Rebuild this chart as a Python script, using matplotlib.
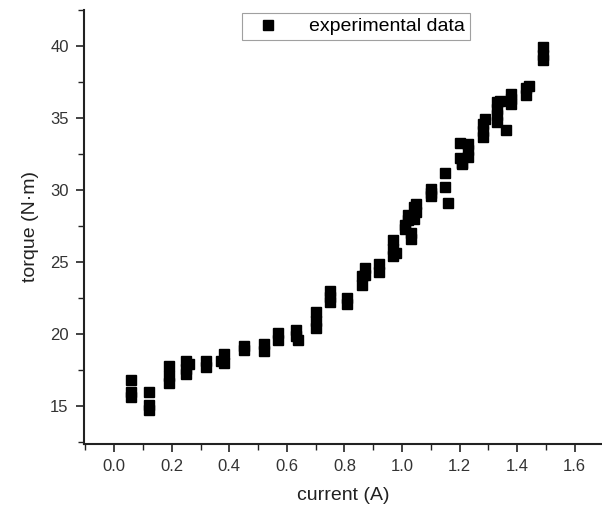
import matplotlib
matplotlib.use("Agg")
import matplotlib.pyplot as plt
from matplotlib.ticker import MultipleLocator, FormatStrFormatter

plt.rcParams['font.family'] = ['Liberation Sans', 'DejaVu Sans']

current = [0.06, 0.06, 0.06,
           0.12, 0.12, 0.12,
           0.19, 0.19, 0.19,
           0.25, 0.25, 0.25, 0.26,
           0.32, 0.32,
           0.38, 0.38, 0.37,
           0.45, 0.45,
           0.52, 0.52,
           0.57, 0.57,
           0.63, 0.63, 0.64,
           0.70, 0.70, 0.70,
           0.75, 0.75, 0.75,
           0.81, 0.81,
           0.86, 0.86, 0.87, 0.87,
           0.92, 0.92,
           0.97, 0.97, 0.97, 0.98,
           1.01, 1.01, 1.02, 1.02, 1.03, 1.03, 1.04, 1.04, 1.05, 1.05,
           1.10, 1.10, 1.10,
           1.15, 1.15, 1.16,
           1.20, 1.20, 1.21, 1.21,
           1.23, 1.23, 1.23,
           1.28, 1.28, 1.28, 1.29,
           1.33, 1.33, 1.33, 1.33, 1.34,
           1.36,
           1.38, 1.38, 1.38,
           1.43, 1.43, 1.44,
           1.49, 1.49, 1.49]

torque = [16.8, 16.0, 15.6,
          16.0, 15.1, 14.7,
          17.8, 17.1, 16.6,
          18.1, 17.6, 17.2, 17.9,
          18.1, 17.7,
          18.6, 18.0, 18.1,
          19.2, 18.9,
          19.3, 18.8,
          20.1, 19.6,
          20.3, 19.9, 19.6,
          21.5, 20.9, 20.4,
          23.0, 22.6, 22.2,
          22.5, 22.1,
          24.0, 23.4, 24.6, 24.1,
          24.9, 24.3,
          26.5, 25.9, 25.4, 25.6,
          27.3, 27.6, 27.9, 28.3, 26.6, 27.0, 28.0, 28.8, 29.0, 28.5,
          30.1, 29.8, 29.6,
          31.2, 30.2, 29.1,
          33.3, 32.2, 31.9, 31.8,
          33.2, 32.8, 32.3,
          34.6, 34.1, 33.7, 34.9,
          36.1, 35.6, 35.2, 34.7, 36.2,
          34.2,
          36.7, 36.3, 36.0,
          37.1, 36.6, 37.2,
          39.9, 39.4, 39.0]

series_label = "experimental data"
x_label = "current (A)"
y_label = "torque (N\u00b7m)"

fig = plt.figure(figsize=(6.02, 5.15), dpi=100)
ax = fig.add_axes([84/602, 1-444/515, 1-84/602, (444-10)/515])

ax.plot(current, torque, linestyle='none', marker='s', markersize=6.5,
        color='black', label=series_label)

ax.set_xlim(-0.105, 1.695)
ax.set_ylim(12.37, 42.5)

ax.xaxis.set_major_locator(MultipleLocator(0.2))
ax.xaxis.set_minor_locator(MultipleLocator(0.1))
ax.yaxis.set_major_locator(MultipleLocator(5))
ax.yaxis.set_minor_locator(MultipleLocator(2.5))
ax.xaxis.set_major_formatter(FormatStrFormatter('%.1f'))

for s in ['top', 'right']:
    ax.spines[s].set_visible(False)
for s in ['left', 'bottom']:
    ax.spines[s].set_linewidth(1.5)
    ax.spines[s].set_color('#222222')

ax.tick_params(which='major', length=6, width=1.2, direction='out',
               labelsize=12, colors='#222222', labelcolor='#333333', pad=5)
ax.tick_params(which='minor', length=4, width=1.0, direction='out', colors='#222222')

ax.set_xlabel(x_label, fontsize=14, color='#222222', labelpad=9)
ax.set_ylabel(y_label, fontsize=14, color='#222222', labelpad=8)

leg = ax.legend(loc='upper center', bbox_to_anchor=(356/602, 1-13/515),
                bbox_transform=fig.transFigure, borderaxespad=0,
                fontsize=14, frameon=True, fancybox=False, handlelength=2.2,
                handletextpad=1.0, borderpad=0.25)
leg.get_frame().set_edgecolor('#888888')
leg.get_frame().set_linewidth(0.8)

fig.savefig("out.png", dpi=100)
